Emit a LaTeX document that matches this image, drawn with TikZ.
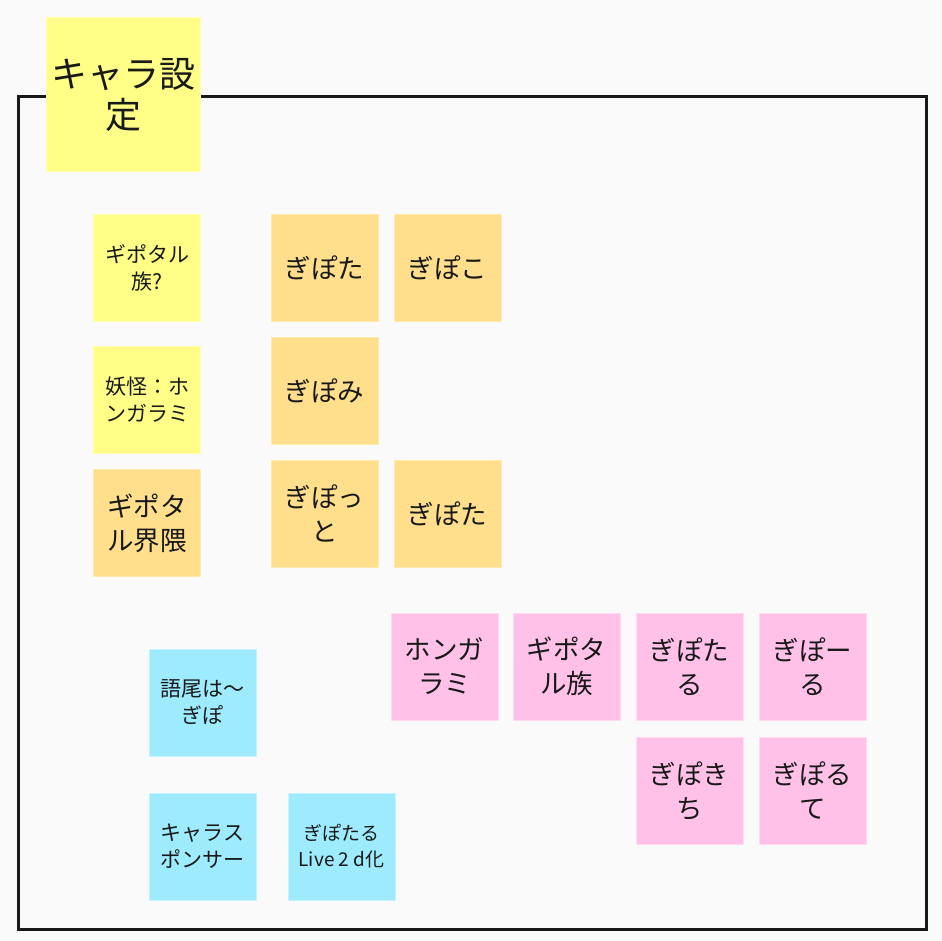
\documentclass[tikz,border=0pt]{standalone}
\usepackage{fontspec}
\setmainfont{Noto Sans CJK JP}
\usetikzlibrary{positioning}
\definecolor{bgGray}{HTML}{FAFAFA}
\definecolor{noteYellow}{HTML}{FFFF88}
\definecolor{noteOrange}{HTML}{FFDF8C}
\definecolor{notePink}{HTML}{FFC1E8}
\definecolor{noteBlue}{HTML}{9DEBFC}

\begin{document}
\begin{tikzpicture}[
x=1pt, y=-1pt,
node distance=16pt and 16pt,
note/.style={rectangle, inner sep=0pt, outer sep=0pt, minimum size=107pt, align=center, text=black!90, line width=0.8pt},
big/.style={note, font=\fontsize{26.5}{34}\selectfont},
small/.style={note, font=\fontsize{21}{27}\selectfont},
yellownote/.style={fill=noteYellow, draw=noteYellow!70!white},
orangenote/.style={fill=noteOrange, draw=noteOrange!70!white},
pinknote/.style={fill=notePink, draw=notePink!60!white},
bluenote/.style={fill=noteBlue, draw=noteBlue!60!white}
]

\fill[bgGray] (0,0) rectangle (942,941);
\useasboundingbox (0,0) rectangle (942,941);

% frame and title
\draw[line width=3pt, black!90] (18,97) rectangle (926,929);
\node[note, yellownote, minimum size=154pt, font=\fontsize{36}{41}\selectfont] (title) at (123,94.5) {キャラ設\\定};

% yellow / orange column
\node[small, yellownote] (tribe) at (147,267.5) {ギポタル\\族?};
\node[small, yellownote, below=of tribe, yshift=-9.5pt] (yokai) {妖怪：ホ\\ンガラミ};
\node[big, orangenote, below=of yokai] (kaiwai) {ギポタ\\ル界隈};

% orange group
\node[big, orangenote] (gipota) at (324.5,267.5) {ぎぽた};
\node[big, orangenote, right=of gipota] (gipoko) {ぎぽこ};
\node[big, orangenote, below=of gipota] (gipomi) {ぎぽみ};
\node[big, orangenote, below=of gipomi] (gipotto) {ぎぽっ\\と};
\node[big, orangenote, right=of gipotto] (gipota2) {ぎぽた};

% pink group
\node[big, pinknote] (hongarami) at (444.5,666.5) {ホンガ\\ラミ};
\node[big, pinknote, right=15pt of hongarami] (giptribe) {ギポタ\\ル族};
\node[big, pinknote, right=of giptribe] (gipotaru) {ぎぽた\\る};
\node[big, pinknote, right=of gipotaru] (gipooru) {ぎぽー\\る};
\node[big, pinknote, below=17pt of gipotaru] (gipokichi) {ぎぽき\\ち};
\node[big, pinknote, below=17pt of gipooru] (giporute) {ぎぽる\\て};

% blue group
\node[small, bluenote] (gobi) at (202.5,702.5) {語尾は～\\ぎぽ};
\node[small, bluenote, below=37pt of gobi] (sponsor) {キャラス\\ポンサー};
\node[small, bluenote, right=32pt of sponsor, font=\fontsize{19}{26}\selectfont] (live) {ぎぽたる\\Live 2 d化};
\end{tikzpicture}
\end{document}
